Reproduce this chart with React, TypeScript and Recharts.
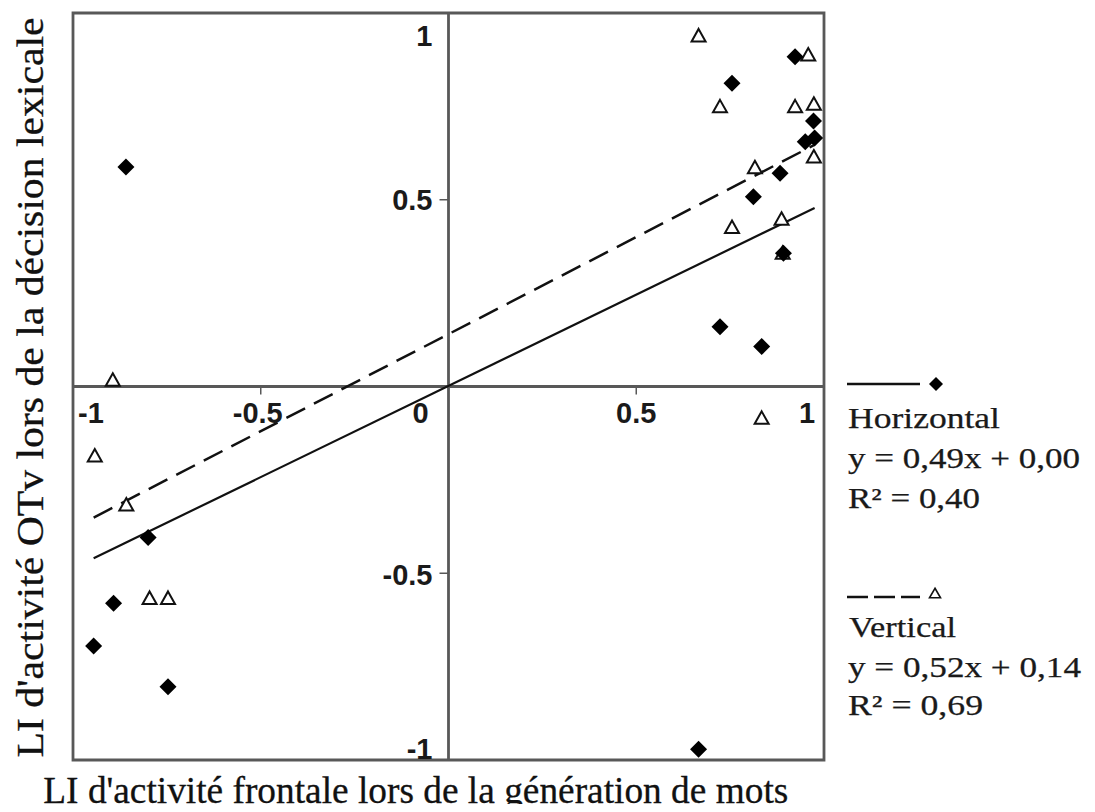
import React from 'react';
import {
  ScatterChart,
  Scatter,
  XAxis,
  YAxis,
  ReferenceLine,
  ReferenceArea,
  ReferenceDot,
  Legend,
} from 'recharts';

// ---------- data ----------
const horizontalPoints = [
  { x: 0.923, y: 0.883 },
  { x: 0.755, y: 0.812 },
  { x: 0.972, y: 0.711 },
  { x: 0.95, y: 0.655 },
  { x: 0.975, y: 0.665 },
  { x: 0.883, y: 0.571 },
  { x: 0.812, y: 0.508 },
  { x: 0.892, y: 0.357 },
  { x: 0.723, y: 0.16 },
  { x: 0.834, y: 0.107 },
  { x: -0.859, y: 0.588 },
  { x: -0.8, y: -0.404 },
  { x: -0.892, y: -0.58 },
  { x: -0.945, y: -0.695 },
  { x: -0.747, y: -0.804 },
  { x: 0.666, y: -0.971 },
];

const verticalPoints = [
  { x: 0.666, y: 0.939 },
  { x: 0.958, y: 0.888 },
  { x: 0.723, y: 0.749 },
  { x: 0.923, y: 0.749 },
  { x: 0.973, y: 0.756 },
  { x: 0.973, y: 0.615 },
  { x: 0.816, y: 0.586 },
  { x: 0.755, y: 0.426 },
  { x: 0.887, y: 0.448 },
  { x: 0.89, y: 0.357 },
  { x: 0.834, y: -0.085 },
  { x: -0.894, y: 0.017 },
  { x: -0.942, y: -0.186 },
  { x: -0.858, y: -0.317 },
  { x: -0.796, y: -0.567 },
  { x: -0.747, y: -0.567 },
];

// fit lines (end points)
const horizontalFit = [
  { x: -0.945, y: -0.46 },
  { x: 0.975, y: 0.478 },
];
const verticalFit = [
  { x: -0.945, y: -0.351 },
  { x: 0.973, y: 0.646 },
];

const xTicks = [-1, -0.5, 0, 0.5, 1];
const xTickLabels = ['-1', '-0.5', '0', '0.5', '1'];
const yTicks = [1, 0.5, -0.5, -1];
const yTickLabels = ['1', '0.5', '-0.5', '-1'];

const seriesNames = ['Horizontal', 'Vertical'];
const equations = ['y = 0,49x + 0,00', 'y = 0,52x + 0,14'];
const rSquared = ['R² = 0,40', 'R² = 0,69'];

const xTitle = "LI d'activité frontale lors de la génération de mots";
const yTitle = "LI d'activité OTv lors de la décision lexicale";

// ---------- styles ----------
const FRAME = '#585858';
const INK = '#111';
const SANS = '"Liberation Sans", Arial, Helvetica, sans-serif';
const SERIF = '"Liberation Serif", "Times New Roman", Times, serif';

const diamond = (cx: number, cy: number, s: number) =>
  `${cx},${cy - s} ${cx + s},${cy} ${cx},${cy + s} ${cx - s},${cy}`;
const triangle = (cx: number, cy: number, w: number, h: number) =>
  `${cx},${cy - h * 0.55} ${cx + w / 2},${cy + h * 0.45} ${cx - w / 2},${cy + h * 0.45}`;

const DiamondShape = (props: any) => {
  const { cx, cy } = props;
  if (cx == null || cy == null) return null;
  return <polygon points={diamond(cx, cy, 8.5)} fill="#000" />;
};

const TriangleShape = (props: any) => {
  const { cx, cy } = props;
  if (cx == null || cy == null) return null;
  return (
    <polygon
      points={triangle(cx, cy, 14, 12.5)}
      fill="#fff"
      stroke={INK}
      strokeWidth={2}
      strokeLinejoin="miter"
    />
  );
};

const xLabelShift = (v: number) => {
  if (v === -1) return 18;
  if (v === 0) return -28;
  if (v === 1) return -17;
  if (v === -0.5) return -3;
  return 0;
};
const yLabelShift = (v: number) => {
  if (v === 1) return 32.5;
  if (v === 0.5) return 10;
  if (v === -0.5) return 11.5;
  return -1;
};

const TICK_FONT = 29;

const makeXTick = (v: number, label: string) => (props: any) => {
  const { cx, cy } = props;
  if (cx == null || cy == null) return <g />;
  const showMark = Math.abs(v) === 0.5;
  return (
    <g>
      {showMark && <line x1={cx} y1={cy} x2={cx} y2={cy + 8} stroke={FRAME} strokeWidth={1.5} />}
      <text
        x={cx + xLabelShift(v)}
        y={cy + 36.5}
        textAnchor="middle"
        fontFamily={SANS}
        fontWeight="bold"
        fontSize={TICK_FONT}
        fill="#1a1a1a"
      >
        {label}
      </text>
    </g>
  );
};

const makeYTick = (v: number, label: string) => (props: any) => {
  const { cx, cy } = props;
  if (cx == null || cy == null) return <g />;
  const showMark = Math.abs(v) === 0.5;
  return (
    <g>
      {showMark && <line x1={cx - 9} y1={cy} x2={cx} y2={cy} stroke={FRAME} strokeWidth={1.5} />}
      <text
        x={cx - 16}
        y={cy + yLabelShift(v)}
        textAnchor="end"
        fontFamily={SANS}
        fontWeight="bold"
        fontSize={TICK_FONT}
        fill="#1a1a1a"
      >
        {label}
      </text>
    </g>
  );
};

const XTitle = (props: any) => {
  const vb = props.viewBox || { x: 65, y: 752, width: 751, height: 52 };
  return (
    <text
      x={vb.x - 29.7}
      y={vb.y + 43}
      textAnchor="start"
      fontFamily={SERIF}
      fontSize={37}
      fill="#111"
      stroke="#111"
      strokeWidth={0.3}
      textLength={745}
      lengthAdjust="spacingAndGlyphs"
    >
      {xTitle}
    </text>
  );
};

const YTitle = (props: any) => {
  const vb = props.viewBox || { x: 0, y: 5, width: 65, height: 747 };
  const x = vb.x + 35;
  const y = vb.y + vb.height / 2 + 1;
  return (
    <text
      x={x}
      y={y}
      transform={`rotate(-90, ${x}, ${y})`}
      textAnchor="middle"
      fontFamily={SERIF}
      fontSize={37}
      fill="#111"
      stroke="#111"
      strokeWidth={0.3}
      textLength={740}
      lengthAdjust="spacingAndGlyphs"
    >
      {yTitle}
    </text>
  );
};

const legendText = (x: number, y: number, s: string, len: number) => (
  <text
    x={x}
    y={y}
    fontFamily={SERIF}
    fontSize={28.5}
    fill="#1a1a1a"
    stroke="#1a1a1a"
    strokeWidth={0.25}
    textLength={len}
    lengthAdjust="spacingAndGlyphs"
  >
    {s}
  </text>
);

const renderLegend = () => (
  <svg width={250} height={360} style={{ overflow: 'visible', display: 'block' }}>
    <line x1={8} y1={14} x2={81} y2={14} stroke={INK} strokeWidth={2.5} />
    <polygon points={diamond(97, 14, 7)} fill="#000" />
    {legendText(9, 58, seriesNames[0], 152)}
    {legendText(9, 98, equations[0], 232)}
    {legendText(9, 138, rSquared[0], 132)}

    <line
      x1={8}
      y1={227}
      x2={81}
      y2={227}
      stroke={INK}
      strokeWidth={2.5}
      strokeDasharray="21 6"
    />
    <polygon points={triangle(96, 223.5, 11, 9.5)} fill="#fff" stroke={INK} strokeWidth={1.6} />
    {legendText(10, 267, seriesNames[1], 107)}
    {legendText(9, 307, equations[1], 233)}
    {legendText(9, 345, rSquared[1], 135)}
  </svg>
);

export default function App() {
  return (
    <div style={{ width: 1079, height: 804, marginBottom: -8 }}>
      <ScatterChart
        width={1079}
        height={804}
        margin={{ top: 5, right: 263, bottom: 0, left: 0 }}
      >
        <XAxis
          type="number"
          dataKey="x"
          domain={[-1, 1]}
          ticks={xTicks}
          tick={false}
          tickLine={false}
          axisLine={false}
          height={52}
          label={<XTitle />}
          allowDataOverflow
        />
        <YAxis
          type="number"
          dataKey="y"
          domain={[-1, 1]}
          ticks={yTicks}
          tick={false}
          tickLine={false}
          axisLine={false}
          width={65}
          label={<YTitle />}
          allowDataOverflow
        />

        <ReferenceArea
          x1={-1}
          x2={1}
          y1={-1}
          y2={1}
          fill="none"
          fillOpacity={0}
          stroke={FRAME}
          strokeWidth={2.8}
          ifOverflow="visible"
        />
        <ReferenceLine x={0} stroke={FRAME} strokeWidth={2.8} />
        <ReferenceLine y={0} stroke={FRAME} strokeWidth={2.8} />

        {xTicks.map((v, i) => (
          <ReferenceDot
            key={'xt' + i}
            x={v}
            y={0}
            r={0}
            ifOverflow="visible"
            shape={makeXTick(v, xTickLabels[i])}
          />
        ))}
        {yTicks.map((v, i) => (
          <ReferenceDot
            key={'yt' + i}
            x={0}
            y={v}
            r={0}
            ifOverflow="visible"
            shape={makeYTick(v, yTickLabels[i])}
          />
        ))}

        <Scatter
          name={seriesNames[1]}
          data={verticalPoints}
          shape={<TriangleShape />}
          isAnimationActive={false}
        />
        <Scatter
          name={seriesNames[0]}
          data={horizontalPoints}
          shape={<DiamondShape />}
          isAnimationActive={false}
        />

        <ReferenceLine
          segment={horizontalFit}
          stroke={INK}
          strokeWidth={2.2}
          ifOverflow="visible"
        />
        <ReferenceLine
          segment={verticalFit}
          stroke={INK}
          strokeWidth={2.5}
          strokeDasharray="21 10"
          ifOverflow="visible"
        />

        <Legend
          layout="vertical"
          align="center"
          verticalAlign="middle"
          content={renderLegend}
          wrapperStyle={{ left: 831, top: 362, width: 250, height: 360 }}
        />
      </ScatterChart>
    </div>
  );
}
